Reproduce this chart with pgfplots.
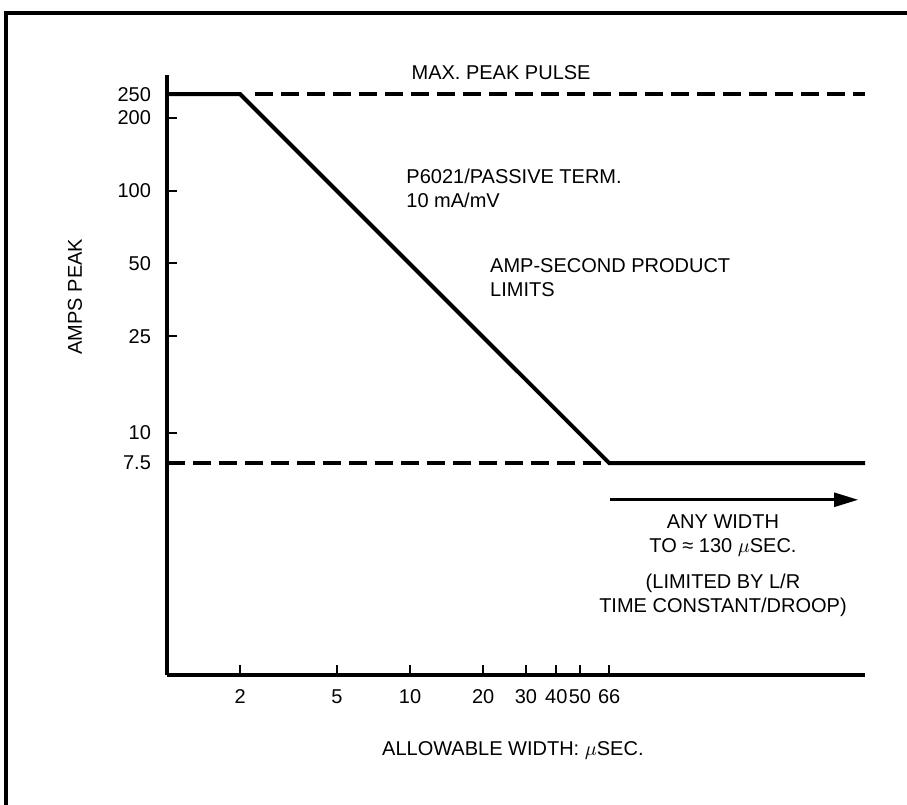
\documentclass[border=0pt]{standalone}
\usepackage{fontspec}
\setmainfont{Liberation Sans}
\usepackage{pgfplots}
\pgfplotsset{compat=1.18}
\usetikzlibrary{arrows.meta}
\begin{document}
\begin{tikzpicture}
\useasboundingbox (0,0) rectangle (453.5pt,-402.5pt);
\draw[line width=2pt] (3pt,-403pt) -- (3pt,-6.5pt) -- (454pt,-6.5pt);
\begin{axis}[
  at={(83.5pt,-337.5pt)}, anchor=south west,
  scale only axis, width=349pt, height=300pt,
  xmode=log, ymode=log, xmin=1, xmax=745, ymin=1, ymax=300,
  axis lines=left, axis line style={line width=1.6pt, -},
  clip=false,
  xtick={2,5,10,20,30,40,50,66}, xticklabels={2,5,10,20,30,40,50,66},
  ytick={7.5,10,25,50,100,200,250}, yticklabels={7.5,10,25,50,100,200,250},
  minor xtick={}, minor ytick={},
  tick align=inside,
  major tick length=4.8pt,
  every tick/.style={black, line width=1pt},
  every node/.append style={font=\fontsize{9}{10.5}\selectfont},
  tick label style={font=\fontsize{10}{11}\selectfont},
  xticklabel style={anchor=base, yshift=-14pt},
  yticklabel style={xshift=-4.5pt},
]
\addplot[line width=2pt, black, line join=miter] coordinates {(1,250) (2,250) (66,7.5) (745,7.5)};
\addplot[line width=2pt, black, dash pattern=on 9pt off 4pt] coordinates {(2.3,250) (745,250)};
\addplot[line width=2pt, black, dash pattern=on 9pt off 4pt] coordinates {(1,7.5) (66,7.5)};
\addplot[line width=1.3pt, black, -{Triangle[length=12pt,width=7pt]}] coordinates {(66.5,5.29) (698,5.29)};
\node at (axis cs:23.7,307) {MAX. PEAK PULSE};
\node[anchor=west, align=left, inner xsep=0pt] at (axis cs:9.63,102) {P6021/PASSIVE TERM.\\10 mA/mV};
\node[anchor=west, align=left, inner xsep=0pt] at (axis cs:21.3,43.7) {AMP-SECOND PRODUCT\\LIMITS};
\node[align=center] at (axis cs:194,3.75) {ANY WIDTH\\TO ≈ 130 $\mu$SEC.};
\node[align=center] at (axis cs:194,2.14) {(LIMITED BY L/R\\TIME CONSTANT/DROOP)};
\node[rotate=90] at (axis cs:0.418,36.5) {AMPS PEAK};
\node at (axis cs:26.5,0.49) {ALLOWABLE WIDTH: $\mu$SEC.};
\end{axis}
\end{tikzpicture}
\end{document}
